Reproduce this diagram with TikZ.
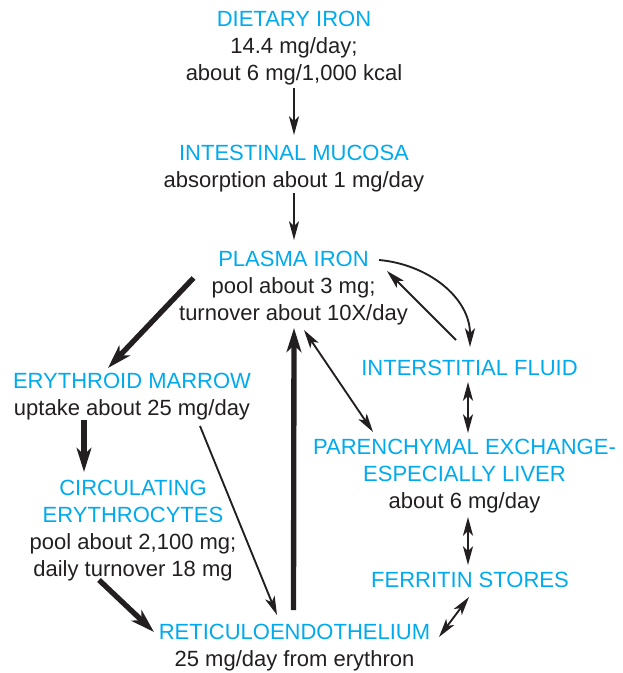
\documentclass[tikz,border=0pt]{standalone}
\usepackage{fontspec}
\setmainfont{Liberation Sans}
\usepackage{tikz}
\usetikzlibrary{arrows.meta}
\usetikzlibrary{calc}

\definecolor{hdblue}{RGB}{0,170,236}
\definecolor{ink}{RGB}{35,31,32}
\newcommand{\blocktitle}[1]{{\color{hdblue}#1}}

\tikzset{
  block/.style={align=center, inner sep=0pt, outer sep=0pt, text=ink,
    font=\fontsize{16.5pt}{20.25pt}\selectfont},
  thin/.style={line width=1.4pt, draw=ink, -{Stealth[length=14pt, width=7.5pt, inset=3.5pt]}},
  thinboth/.style={line width=1.4pt, draw=ink, {Stealth[length=14pt, width=7.5pt, inset=3.5pt]}-{Stealth[length=14pt, width=7.5pt, inset=3.5pt]}},
  thick/.style={line width=4pt, draw=ink, -{Stealth[length=18pt, width=11pt, inset=5pt]}}
}

\begin{document}
\begin{tikzpicture}[x=0.75pt, y=0.75pt]
  \useasboundingbox (0,0) rectangle (622,-673);

  \node[block] (diet) at (294,-48) {\blocktitle{DIETARY IRON}\\14.4 mg/day;\\about 6 mg/1,000 kcal};
  \node[block] (mucosa) at (294,-169) {\blocktitle{INTESTINAL MUCOSA}\\absorption about 1 mg/day};
  \node[block] (plasma) at (293.5,-288) {\blocktitle{PLASMA IRON}\\pool about 3 mg;\\turnover about 10X/day};
  \node[block] (marrow) at (132,-397) {\blocktitle{ERYTHROID MARROW}\\uptake about 25 mg/day};
  \node[block] (circ) at (133,-531) {\blocktitle{CIRCULATING}\\\blocktitle{ERYTHROCYTES}\\pool about 2,100 mg;\\daily turnover 18 mg};
  \node[block] (re) at (294.5,-648) {\blocktitle{RETICULOENDOTHELIUM}\\25 mg/day from erythron};
  \node[block] (inter) at (469.5,-368) {\blocktitle{INTERSTITIAL FLUID}};
  \node[block] (paren) at (464.5,-476) {\blocktitle{PARENCHYMAL EXCHANGE-}\\\blocktitle{ESPECIALLY LIVER}\\about 6 mg/day};
  \node[block] (ferr) at (470,-580) {\blocktitle{FERRITIN STORES}};

  % intake
  \draw[thin] ($(diet)+(0,-40)$) -- ($(mucosa)+(0,34)$);
  \draw[thin] ($(mucosa)+(0,-24)$) -- ($(plasma)+(0.5,48)$);

  % red cell loop
  \draw[thick] ($(plasma)+(-100,10)$) -- ($(marrow)+(-24,29)$);
  \draw[thick] ($(marrow)+(-48,-23)$) -- ($(circ)+(-49,59)$);
  \draw[thin] ($(marrow)+(68,-29)$) -- ($(re)+(-17.5,33)$);
  \draw[thick] ($(circ)+(-34,-49)$) -- ($(re)+(-140.5,16)$);
  \draw[thick] ($(re)+(-1,38)$) -- ($(plasma)+(0.5,-40)$);

  % exchange with tissues
  \draw[thinboth] ($(plasma)+(10.5,-42)$) -- ($(paren)+(-91.5,44)$);
  \draw[thin] ($(inter)+(-13.5,28)$) -- ($(plasma)+(93.5,17)$);
  \draw[thin] ($(plasma)+(85.5,28)$) to[out=-5, in=90] ($(inter)+(0.5,21)$);
  \draw[thinboth] ($(inter)+(-1.5,-14)$) -- ($(paren)+(3.5,43)$);
  \draw[thinboth] ($(paren)+(3.5,-41)$) -- ($(ferr)+(-2,15)$);
  \draw[thinboth] ($(ferr)+(-1,-17)$) -- ($(re)+(144.5,11)$);
\end{tikzpicture}
\end{document}
